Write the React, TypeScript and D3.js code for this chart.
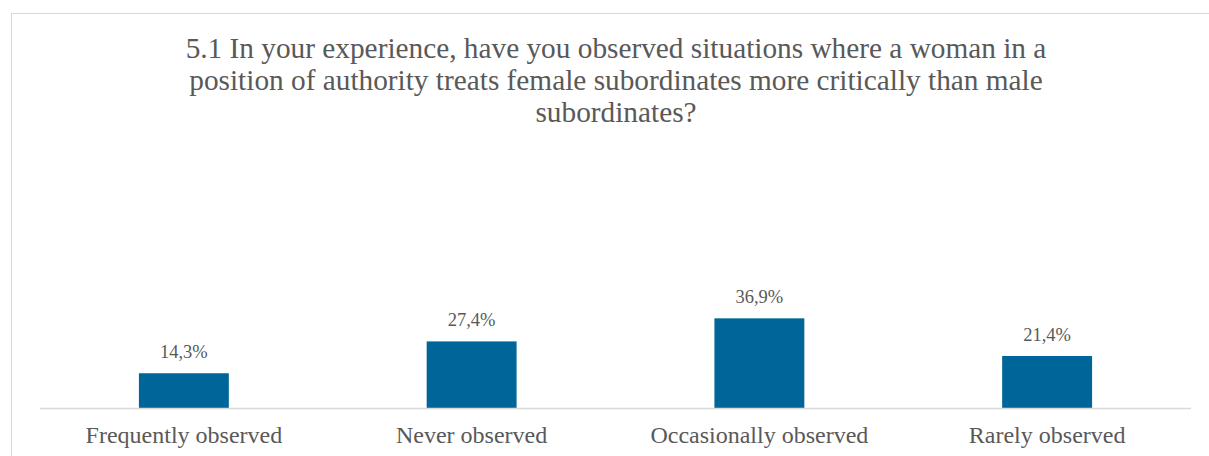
import React from "react";
import * as d3 from "d3";

const categories = [
  "Frequently observed",
  "Never observed",
  "Occasionally observed",
  "Rarely observed",
];
const percentages = [14.3, 27.4, 36.9, 21.4];
const titleLines = [
  "5.1 In your experience, have you observed situations where a woman in a",
  "position of authority treats female subordinates more critically than male",
  "subordinates?",
];

const W = 1209;
const H = 456;
const FONT = '"Times New Roman", "Liberation Serif", Tinos, serif';
const TEXT = "#595959";
const BAR = "#006699";
const GRID = "#d9d9d9";

export default function App() {
  const plotLeft = 40;
  const plotRight = 1191;
  const baseline = 408;

  const x = d3
    .scaleBand<string>()
    .domain(categories)
    .range([plotLeft, plotRight])
    .paddingInner(0.6875)
    .paddingOuter(0.34375);

  const y = d3.scaleLinear().domain([0, 40]).range([baseline, baseline - 97.2]);

  const fmt = (v: number) => v.toFixed(1).replace(".", ",") + "%";
  const titleX = 616;
  const textStyle = { fontFamily: FONT };

  return (
    <svg
      width={W}
      height={H}
      style={{ position: "absolute", left: 0, top: 0, background: "#fff", fontFamily: FONT }}
    >
      {/* chart frame */}
      <rect x={11.5} y={13.5} width={1215} height={460} fill="#fff" stroke={GRID} strokeWidth={1} />

      {/* title */}
      <text fill={TEXT} fontSize={29.3} textAnchor="middle" style={textStyle}>
        {titleLines.map((line, i) => (
          <tspan key={i} x={titleX} y={57.5 + i * 32}>
            {line}
          </tspan>
        ))}
      </text>

      {/* bars */}
      {categories.map((c, i) => (
        <rect
          key={c}
          x={x(c)}
          y={y(percentages[i])}
          width={x.bandwidth()}
          height={baseline - y(percentages[i])}
          fill={BAR}
        />
      ))}

      {/* data labels */}
      {categories.map((c, i) => (
        <text
          key={c + "-v"}
          x={(x(c) ?? 0) + x.bandwidth() / 2}
          y={y(percentages[i]) - 15}
          fill={TEXT}
          fontSize={18.5}
          textAnchor="middle"
          style={textStyle}
        >
          {fmt(percentages[i])}
        </text>
      ))}

      {/* category axis */}
      <line x1={plotLeft} x2={plotRight} y1={baseline + 0.5} y2={baseline + 0.5} stroke={GRID} strokeWidth={1.5} />
      {categories.map((c) => (
        <text
          key={c + "-c"}
          x={(x(c) ?? 0) + x.bandwidth() / 2}
          y={443}
          fill={TEXT}
          fontSize={24}
          textAnchor="middle"
          style={textStyle}
        >
          {c}
        </text>
      ))}
    </svg>
  );
}
